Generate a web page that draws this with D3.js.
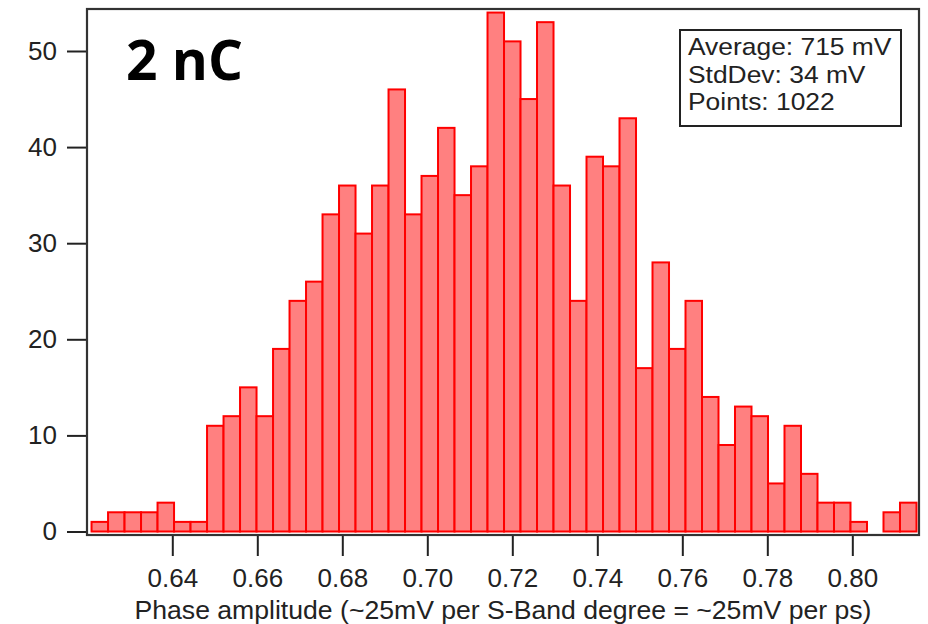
<!DOCTYPE html>
<html>
<head>
<meta charset="utf-8">
<script src="https://cdn.jsdelivr.net/npm/d3@7"></script>
<style>
  html, body { margin: 0; padding: 0; background: #fff; }
  svg { display: block; }
  .axis text { font-family: "Liberation Sans", Arial, sans-serif; font-size: 26px; fill: #222; }
  .axis line { stroke: #222; stroke-width: 2; }
</style>
</head>
<body>
<svg id="chart" width="928" height="624"></svg>
<script>
// Histogram of phase amplitude (V): 50 equal-width bins
const binStart = 0.6210;
const binWidth = 0.003882;
const counts = [
  1, 2, 2, 2, 3, 1, 1, 11, 12, 15,
  12, 19, 24, 26, 33, 36, 31, 36, 46, 33,
  37, 42, 35, 38, 54, 51, 45, 53, 36, 24,
  39, 38, 43, 17, 28, 19, 24, 14, 9, 13,
  12, 5, 11, 6, 3, 3, 1, 0, 2, 3
];
const xTicks = [0.64, 0.66, 0.68, 0.70, 0.72, 0.74, 0.76, 0.78, 0.80];
const yTicks = [0, 10, 20, 30, 40, 50];
const statsLines = ["Average: 715 mV", "StdDev: 34 mV", "Points: 1022"];
const panelLabel = "2 nC";
const xTitle = "Phase amplitude (~25mV per S-Band degree = ~25mV per ps)";

const svg = d3.select("#chart");
const plot = { left: 87, right: 919, top: 9, bottom: 535 };

const x = d3.scaleLinear().domain([0.61993, 0.81569]).range([plot.left, plot.right]);
const y = d3.scaleLinear().domain([-0.364, 54.37]).range([plot.bottom, plot.top]);

const bins = counts.map((c, i) => ({ x0: binStart + i * binWidth, x1: binStart + (i + 1) * binWidth, n: c }));

// bars
svg.append("g")
  .selectAll("rect")
  .data(bins)
  .join("rect")
  .attr("x", d => x(d.x0))
  .attr("width", d => x(d.x1) - x(d.x0))
  .attr("y", d => y(d.n))
  .attr("height", d => y(0) - y(d.n))
  .attr("fill", "#ff8080")
  .attr("stroke", "#ff0000")
  .attr("stroke-width", 2);

// axes
const yAxis = svg.append("g")
  .attr("class", "axis")
  .attr("transform", `translate(${plot.left},0)`)
  .call(d3.axisLeft(y).tickValues(yTicks).tickSize(20).tickPadding(10));
yAxis.select(".domain").remove();

const xAxis = svg.append("g")
  .attr("class", "axis")
  .attr("transform", `translate(0,${plot.bottom})`)
  .call(d3.axisBottom(x).tickValues(xTicks).tickFormat(d3.format(".2f")).tickSize(21).tickPadding(13));
xAxis.select(".domain").remove();

// plot frame
svg.append("rect")
  .attr("x", plot.left)
  .attr("y", plot.top)
  .attr("width", plot.right - plot.left)
  .attr("height", plot.bottom - plot.top)
  .attr("fill", "none")
  .attr("stroke", "#333")
  .attr("stroke-width", 2.2);

// axis title
svg.append("text")
  .attr("x", (plot.left + plot.right) / 2)
  .attr("y", 619)
  .attr("text-anchor", "middle")
  .attr("font-family", "Liberation Sans, Arial, sans-serif")
  .attr("font-size", 26.6)
  .attr("fill", "#222")
  .text(xTitle);

// panel label
svg.append("text")
  .attr("x", 126)
  .attr("y", 80)
  .attr("font-family", "Open Sans, sans-serif")
  .attr("font-weight", "bold")
  .attr("font-size", 55)
  .attr("fill", "#000")
  .text(panelLabel);

// statistics box
const box = svg.append("g");
box.append("rect")
  .attr("x", 680).attr("y", 30)
  .attr("width", 221).attr("height", 96)
  .attr("fill", "#fff")
  .attr("stroke", "#222")
  .attr("stroke-width", 2);
box.selectAll("text")
  .data(statsLines)
  .join("text")
  .attr("transform", (d, i) => `translate(688,${55 + i * 27.5}) scale(1.1,1)`)
  .attr("font-family", "Liberation Sans, Arial, sans-serif")
  .attr("font-size", 24)
  .attr("fill", "#222")
  .text(d => d);
</script>
</body>
</html>
